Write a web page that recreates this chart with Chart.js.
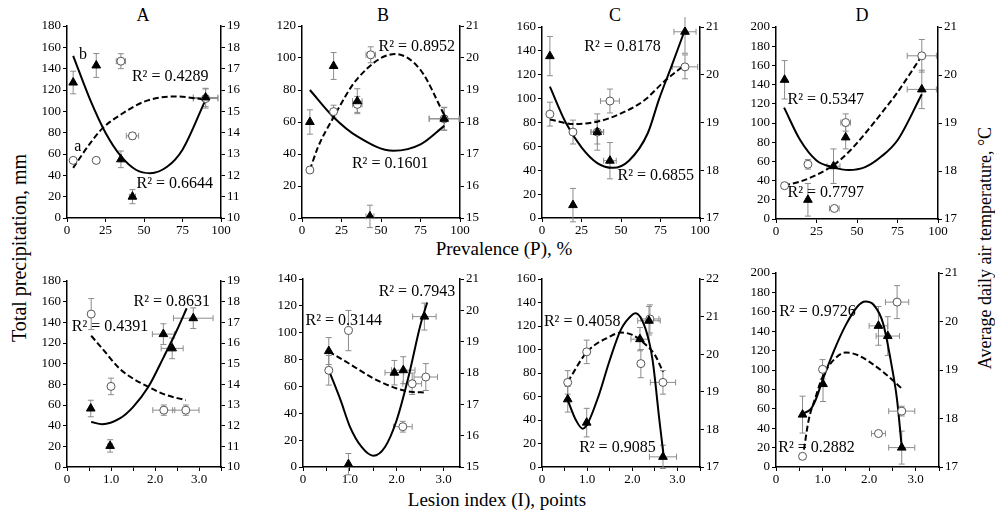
<!DOCTYPE html>
<html>
<head>
<meta charset="utf-8">
<script src="https://cdn.jsdelivr.net/npm/chart.js@4.4.1/dist/chart.umd.min.js"></script>
<style>
  body { margin: 0; width: 995px; height: 512px; position: relative; overflow: hidden; background: #fff; font-family: 'Liberation Serif', serif; }
  canvas { position: absolute; }
  .t { position: absolute; white-space: nowrap; color: #000; font-size: 19px; transform: translate(-50%, -50%); }
  .rot { transform: translate(-50%, -50%) rotate(-90deg); }
</style>
</head>
<body>
<div class="t" style="left:143px;top:15px;font-size:18px">A</div>
<div class="t" style="left:383px;top:15px;font-size:18px">B</div>
<div class="t" style="left:615px;top:15px;font-size:18px">C</div>
<div class="t" style="left:862px;top:15px;font-size:18px">D</div>
<div class="t" style="left:504px;top:249px">Prevalence (P), %</div>
<div class="t" style="left:497px;top:500px">Lesion index (I), points</div>
<div class="t rot" style="left:19px;top:248px;font-size:20px">Total precipitation, mm</div>
<div class="t rot" style="left:985px;top:248px;font-size:18px">Average daily air temperature, °C</div>
<script>
// panels: 0-3 = A..D vs prevalence (top), 4-7 = A..D vs lesion index (bottom)
// triangles: average daily air temperature (right axis), circles: precipitation (left axis)
const tempX = [
  [4, 19, 35, 42.5, 90], [5, 20, 35, 43, 90], [5, 19.6, 35, 43, 90.5], [5.3, 19.7, 35.5, 43, 90],
  [0.54, 0.98, 2.19, 2.39, 2.87], [0.55, 0.97, 1.95, 2.14, 2.59], [0.57, 0.99, 2.17, 2.37, 2.68], [0.57, 1.01, 2.2, 2.4, 2.7]
];
const tempY = [
  [16.35, 17.15, 12.75, 11.0, 15.65], [18.0, 19.75, 18.65, 15.05, 18.1], [20.39, 17.27, 18.8, 18.2, 20.9], [19.9, 17.4, 18.1, 18.7, 19.7],
  [12.83, 11.02, 16.43, 15.74, 17.2], [18.7, 15.09, 18.01, 18.09, 19.8], [18.8, 18.18, 20.4, 20.89, 17.27], [18.08, 18.71, 19.91, 19.7, 17.4]
];
const tempXErr = [
  [0, 0, 0, 2, 8], [0, 0, 3, 2.5, 9.5], [0, 0, 4, 4, 7], [0, 0, 4, 0, 9],
  [0, 0.05, 0.25, 0.25, 0.45], [0, 0, 0.2, 0.25, 0.25], [0, 0, 0.2, 0.25, 0.3], [0, 0, 0.2, 0.25, 0.28]
];
const tempYErr = [
  [0.53, 0.56, 0.39, 0.33, 0.43], [0.38, 0.42, 0.39, 0.35, 0.36], [0.41, 0.35, 0.38, 0.38, 0.45], [0.4, 0.34, 0.36, 0.24, 0.4],
  [0.4, 0.3, 0.5, 0.5, 0.5], [0.43, 0.34, 0.39, 0.43, 0.43], [0.34, 0.38, 0.31, 0.38, 0.31], [0.38, 0.36, 0.4, 0.4, 0.34]
];
const precX = [
  [4, 19, 35, 42.5, 90], [5, 20, 35, 43.5, 90], [5, 19.6, 35, 43, 90.5], [5.3, 19.7, 36, 43, 90],
  [0.55, 1.0, 2.2, 2.7], [0.55, 0.97, 2.13, 2.33, 2.62], [0.57, 0.99, 2.19, 2.39, 2.68], [0.57, 1.0, 2.2, 2.6, 2.7]
];
const precY = [
  [54, 54, 147, 77, 112], [30, 66.5, 71, 102, 62], [87, 72, 72, 98, 126.6], [34.7, 57, 11, 100.5, 170],
  [148, 78, 55, 55], [72, 101.6, 30, 62, 67], [72, 98, 88, 126, 72], [11, 100.7, 34.5, 170, 57.6]
];
const precXErr = [
  [0, 0, 3, 4, 8], [0, 0, 3, 3, 9.5], [0, 0, 4, 6, 8], [0, 0, 3, 3, 9],
  [0, 0, 0.25, 0.3], [0, 0, 0.2, 0.2, 0.25], [0, 0, 0, 0.2, 0.28], [0, 0, 0.15, 0.25, 0.28]
];
const precYErr = [
  [0, 0, 7, 3, 9], [0, 4, 5, 5, 7], [10, 10, 10, 10, 10], [0, 5, 0, 9, 17],
  [15, 8, 5, 5], [11, 15, 4, 8, 10], [10, 10, 12, 12, 10], [3, 10, 2, 17, 5]
];
// fitted trend lines
const tempFitX = [
  [4, 15, 25, 35, 45, 54, 65, 75, 90], [5, 20, 35, 58, 75, 90], [5, 15, 25, 35, 45, 55, 67, 74, 82, 90], [5, 15, 25, 35, 45, 55, 65, 75, 90],
  [0.55, 0.8, 1.2, 1.5, 1.85, 2.2, 2.5, 2.72], [0.55, 0.8, 1.0, 1.25, 1.5, 1.75, 2.0, 2.25, 2.5, 2.65],
  [0.57, 0.75, 0.9, 1.0, 1.25, 1.5, 1.75, 2.0, 2.07, 2.3, 2.45, 2.6, 2.7], [0.57, 0.75, 0.85, 1.0, 1.25, 1.5, 1.75, 1.92, 2.1, 2.3, 2.5, 2.6, 2.7]
];
const tempFitY = [
  [17.6, 15.55, 14.0, 12.9, 12.25, 12.1, 12.4, 13.2, 15.55], [19.0, 18.15, 17.55, 17.1, 17.3, 17.88],
  [19.75, 19.0, 18.48, 18.15, 18.05, 18.2, 18.78, 19.48, 20.18, 20.9], [19.32, 18.64, 18.22, 18.08, 18.02, 18.08, 18.3, 18.64, 19.6],
  [12.18, 12.07, 12.35, 12.9, 13.88, 15.33, 16.63, 17.68], [18.09, 17.14, 16.29, 15.64, 15.36, 15.64, 16.5, 17.87, 19.5, 20.25],
  [18.78, 18.25, 18.02, 18.13, 18.88, 19.84, 20.66, 21.05, 21.09, 20.65, 19.84, 18.25, 17.24],
  [18.1, 18.2, 18.38, 18.79, 19.41, 19.93, 20.31, 20.41, 20.34, 19.96, 19.0, 18.38, 17.41]
];
const precFitX = [
  [4, 15, 23, 35, 50, 70, 90], [5, 10, 20, 35, 59, 75, 90], [5, 20, 35, 50, 65, 77, 90], [5, 15, 25, 35, 45, 55, 65, 75, 90],
  [0.55, 0.8, 1.2, 1.5, 1.85, 2.2, 2.7], [0.55, 1.0, 1.5, 2.0, 2.3, 2.62], [0.57, 1.0, 1.5, 1.75, 2.0, 2.3, 2.5, 2.68],
  [0.6, 0.7, 0.85, 1.0, 1.25, 1.5, 1.75, 2.0, 2.3, 2.5, 2.7]
];
const precFitY = [
  [47, 70, 84, 97, 109, 114, 111], [30, 44, 63, 87, 102.5, 92.5, 64.5], [82.6, 78.7, 80.7, 87.6, 98.8, 114, 128],
  [35, 39, 46, 55.5, 70, 89, 110, 132, 170], [127, 114.7, 95, 85.6, 77.6, 70.5, 64.6], [86, 76.7, 66, 58.5, 56, 55.5],
  [72.6, 98, 110.9, 114.4, 112.4, 104, 95.4, 81], [18, 48, 72, 93, 111, 118, 115.5, 108.6, 98, 89.6, 81]
];
// R² annotations: text, x, y (left axis units)
const r2Labels = [
  [["R² = 0.4289", 67, 132], ["R² = 0.6644", 70, 32], ["b", 10.4, 153], ["a", 7, 67]],
  [["R² = 0.8952", 72.6, 107], ["R² = 0.1601", 55.8, 34]],
  [["R² = 0.8178", 51, 143], ["R² = 0.6855", 72, 35.6]],
  [["R² = 0.5347", 30.7, 123.7], ["R² = 0.7797", 30.7, 27.4]],
  [["R² = 0.8631", 2.38, 160], ["R² = 0.4391", 0.98, 135.7]],
  [["R² = 0.7943", 2.43, 130.8], ["R² = 0.3144", 0.87, 109]],
  [["R² = 0.4058", 0.89, 123.8], ["R² = 0.9085", 1.67, 16.5]],
  [["R² = 0.9726", 0.89, 160.3], ["R² = 0.2882", 0.87, 20]]
];
// axis ranges
const precMax = [180, 120, 160, 200, 180, 140, 160, 200];
const tempMin = [10, 15, 17, 17, 10, 15, 17, 17];
const tempMax = [19, 21, 21, 21, 19, 21, 22, 21];
const xMax = [100, 100, 100, 100, 3.5, 3.35, 3.5, 3.5];
const xStep = [25, 25, 25, 25, 0.5, 0.5, 0.5, 0.5];

// plot areas on the page: left, top, right, bottom
const areas = [
  [67, 26, 221, 218], [302, 26, 460, 218], [542, 27, 700, 218], [776, 27, 938, 219],
  [67, 281, 221, 467], [303, 279, 460, 467], [542, 279, 700, 467], [776, 273, 939, 467]
];
const L = 44, R = 32, T = 10, B = 22;
const FONT = "'Liberation Serif', serif";

const errorBars = {
  id: 'errorBars',
  beforeDatasetsDraw(chart) {
    const ctx = chart.ctx;
    const xs = chart.scales.x;
    chart.data.datasets.forEach(ds => {
      if (!ds.errX) return;
      const ys = chart.scales[ds.yAxisID];
      ctx.save();
      ctx.strokeStyle = '#8c8c8c';
      ctx.lineWidth = 1;
      ds.data.forEach((p, j) => {
        const px = xs.getPixelForValue(p.x), py = ys.getPixelForValue(p.y);
        const ex = ds.errX[j], ey = ds.errY[j];
        ctx.beginPath();
        if (ey) {
          const a = ys.getPixelForValue(p.y - ey), b = ys.getPixelForValue(p.y + ey);
          ctx.moveTo(px, a); ctx.lineTo(px, b);
          ctx.moveTo(px - 3, a); ctx.lineTo(px + 3, a);
          ctx.moveTo(px - 3, b); ctx.lineTo(px + 3, b);
        }
        if (ex) {
          const a = xs.getPixelForValue(p.x - ex), b = xs.getPixelForValue(p.x + ex);
          ctx.moveTo(a, py); ctx.lineTo(b, py);
          ctx.moveTo(a, py - 3); ctx.lineTo(a, py + 3);
          ctx.moveTo(b, py - 3); ctx.lineTo(b, py + 3);
        }
        ctx.stroke();
      });
      ctx.restore();
    });
  }
};

function axisStyle() {
  return {
    grid: { drawOnChartArea: false, drawTicks: true, tickLength: 4, color: '#000', lineWidth: 1 },
    border: { display: true, color: '#000', width: 1.5 },
  };
}

for (let i = 0; i < 8; i++) {
  const [x0, y0, x1, y1] = areas[i];
  const w = x1 - x0 + L + R, h = y1 - y0 + T + B;
  const cv = document.createElement('canvas');
  cv.width = w; cv.height = h;
  cv.style.left = (x0 - L) + 'px'; cv.style.top = (y0 - T) + 'px';
  cv.style.width = w + 'px'; cv.style.height = h + 'px';
  document.body.appendChild(cv);

  const pts = (xs, ys) => xs.map((x, j) => ({ x: x, y: ys[j] }));
  const notes = {
    id: 'notes',
    afterDatasetsDraw(chart) {
      const ctx = chart.ctx;
      ctx.save();
      ctx.font = '16px ' + FONT;
      ctx.fillStyle = '#000';
      ctx.textAlign = 'center';
      ctx.textBaseline = 'middle';
      r2Labels[i].forEach(([t, x, y]) => {
        ctx.fillText(t, chart.scales.x.getPixelForValue(x), chart.scales.y.getPixelForValue(y));
      });
      ctx.restore();
    }
  };
  const tickFont = { family: FONT, size: 13 };
  const bottomRow = i >= 4;

  new Chart(cv, {
    type: 'scatter',
    data: {
      datasets: [
        { label: 'Temperature', data: pts(tempX[i], tempY[i]), yAxisID: 'y1', pointStyle: 'triangle',
          pointRadius: 5, backgroundColor: '#000', borderColor: '#000', borderWidth: 1,
          errX: tempXErr[i], errY: tempYErr[i] },
        { label: 'Precipitation', data: pts(precX[i], precY[i]), yAxisID: 'y', pointStyle: 'circle',
          pointRadius: 4, backgroundColor: '#fff', borderColor: '#555', borderWidth: 1,
          errX: precXErr[i], errY: precYErr[i] },
        { label: 'Temperature fit', data: pts(tempFitX[i], tempFitY[i]), yAxisID: 'y1', showLine: true,
          pointRadius: 0, borderColor: '#000', borderWidth: 2, cubicInterpolationMode: 'monotone' },
        { label: 'Precipitation fit', data: pts(precFitX[i], precFitY[i]), yAxisID: 'y', showLine: true,
          pointRadius: 0, borderColor: '#000', borderWidth: 2, borderDash: [6, 3], cubicInterpolationMode: 'monotone' }
      ]
    },
    options: {
      responsive: false,
      animation: false,
      layout: { padding: { top: T, left: 0, right: 0, bottom: 0 } },
      plugins: { legend: { display: false }, tooltip: { enabled: false } },
      scales: {
        x: Object.assign(axisStyle(), {
          type: 'linear', min: 0, max: xMax[i],
          afterFit: s => { s.height = B; },
          ticks: {
            stepSize: xStep[i], includeBounds: false, autoSkip: false, maxRotation: 0, padding: 1,
            color: '#000', font: tickFont,
            callback: v => bottomRow ? (v === 0 ? '0' : (v % 1 === 0 ? v.toFixed(1) : '')) : v
          }
        }),
        y: Object.assign(axisStyle(), {
          position: 'left', min: 0, max: precMax[i],
          afterFit: s => { s.width = L; },
          ticks: { stepSize: 20, color: '#000', font: tickFont, padding: 2 }
        }),
        y1: Object.assign(axisStyle(), {
          position: 'right', min: tempMin[i], max: tempMax[i],
          afterFit: s => { s.width = R; },
          ticks: { stepSize: 1, color: '#000', font: tickFont, padding: 2 }
        })
      }
    },
    plugins: [errorBars, notes]
  });
}
</script>
</body>
</html>
